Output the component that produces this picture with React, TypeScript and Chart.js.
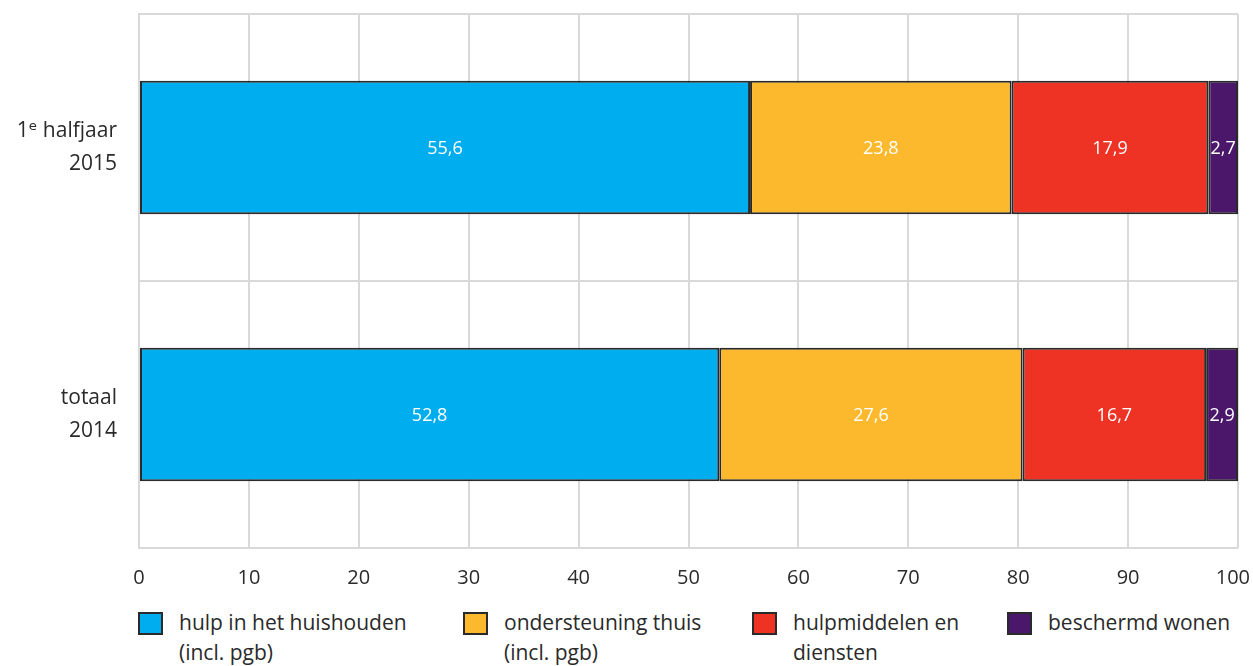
import React, { useEffect, useRef } from "react";
import { Chart, registerables } from "chart.js";

Chart.register(...registerables);

const categories: string[][] = [["1ᵉ halfjaar", "2015"], ["totaal", "2014"]];
const seriesNames: string[][] = [
  ["hulp in het huishouden", "(incl. pgb)"],
  ["ondersteuning thuis", "(incl. pgb)"],
  ["hulpmiddelen en", "diensten"],
  ["beschermd wonen"],
];
const hulpHuishouden = [55.6, 52.8];
const ondersteuningThuis = [23.8, 27.6];
const hulpmiddelen = [17.9, 16.7];
const beschermdWonen = [2.7, 2.9];
const xTicks = [0, 10, 20, 30, 40, 50, 60, 70, 80, 90, 100];

const colors = ["#00aeef", "#fdb92e", "#ee3324", "#4a176b"];
const FONT = "'Open Sans', 'DejaVu Sans', sans-serif";
const legendLeft = [138, 463, 752, 1007];

const labelPlugin = {
  id: "valueLabels",
  afterDatasetsDraw(chart: any) {
    const ctx = chart.ctx;
    ctx.save();
    ctx.fillStyle = "#ffffff";
    ctx.font = `18px ${FONT}`;
    ctx.textAlign = "center";
    ctx.textBaseline = "middle";
    chart.data.datasets.forEach((ds: any, i: number) => {
      const meta = chart.getDatasetMeta(i);
      meta.data.forEach((el: any, j: number) => {
        const v = ds.data[j] as number;
        const x = (el.x + el.base) / 2;
        ctx.fillText(v.toFixed(1).replace(".", ","), x, el.y + 1);
      });
    });
    ctx.restore();
  },
};

const xTickPlugin = {
  id: "xTickLabels",
  afterDraw(chart: any) {
    const ctx = chart.ctx;
    const xs = chart.scales.x;
    ctx.save();
    ctx.fillStyle = "#2a2a2a";
    ctx.font = `20px ${FONT}`;
    ctx.textAlign = "center";
    ctx.textBaseline = "middle";
    xTicks.forEach((v) => {
      const t = String(v);
      const w = ctx.measureText(t).width;
      let x = xs.getPixelForValue(v);
      if (x + w / 2 > chart.width - 3) x = chart.width - 3 - w / 2;
      ctx.fillText(t, x, chart.chartArea.bottom + 30);
    });
    ctx.restore();
  },
};

export default function App() {
  const ref = useRef<HTMLCanvasElement>(null);
  useEffect(() => {
    document.body.style.margin = "0";
    const data = [hulpHuishouden, ondersteuningThuis, hulpmiddelen, beschermdWonen];
    const chart = new Chart(ref.current!, {
      type: "bar",
      data: {
        labels: categories as any,
        datasets: data.map((d, i) => ({
          label: seriesNames[i].join(" "),
          data: d,
          backgroundColor: colors[i],
          borderColor: "#2a2a2a",
          borderWidth: 2,
          borderSkipped: false,
          barPercentage: 1,
          categoryPercentage: 0.5,
        })),
      },
      options: {
        indexAxis: "y",
        responsive: false,
        animation: false,
        layout: { padding: { top: 14, right: 15, left: 0, bottom: 0 } },
        plugins: { legend: { display: false }, tooltip: { enabled: false } },
        scales: {
          x: {
            stacked: true,
            min: 0,
            max: 100,
            afterBuildTicks: (s: any) => {
              s.ticks = xTicks.map((v) => ({ value: v }));
            },
            afterFit: (s: any) => {
              s.height = 52;
              s.paddingLeft = 0;
              s.paddingRight = 0;
            },
            grid: { color: "#d9d9d9", lineWidth: 2, drawTicks: false },
            border: { display: false },
            ticks: { display: false },
          },
          y: {
            stacked: true,
            afterFit: (s: any) => {
              s.width = 139;
              s.paddingTop = 0;
              s.paddingBottom = 0;
            },
            grid: { color: "#d9d9d9", lineWidth: 2, drawTicks: false },
            border: { color: "#d9d9d9", width: 2 },
            ticks: {
              color: "#2a2a2a",
              font: { family: FONT, size: 21, lineHeight: 1.55 },
              padding: 22,
            },
          },
        },
      },
      plugins: [labelPlugin, xTickPlugin],
    });
    return () => chart.destroy();
  }, []);

  return (
    <div style={{ position: "relative", width: 1253, height: 666, fontFamily: FONT }}>
      <canvas ref={ref} width={1253} height={600} style={{ display: "block" }} />
      {seriesNames.map((name, i) => (
        <div
          key={i}
          style={{ position: "absolute", left: legendLeft[i], top: 607, display: "flex", alignItems: "flex-start" }}
        >
          <div
            style={{
              width: 21,
              height: 19,
              marginTop: 5,
              background: colors[i],
              border: "2px solid #2a2a2a",
              flex: "none",
            }}
          />
          <div style={{ marginLeft: 16, fontSize: 21, lineHeight: "30px", color: "#2a2a2a" }}>
            {name.map((l, k) => (
              <div key={k} style={{ whiteSpace: "nowrap" }}>{l}</div>
            ))}
          </div>
        </div>
      ))}
    </div>
  );
}
